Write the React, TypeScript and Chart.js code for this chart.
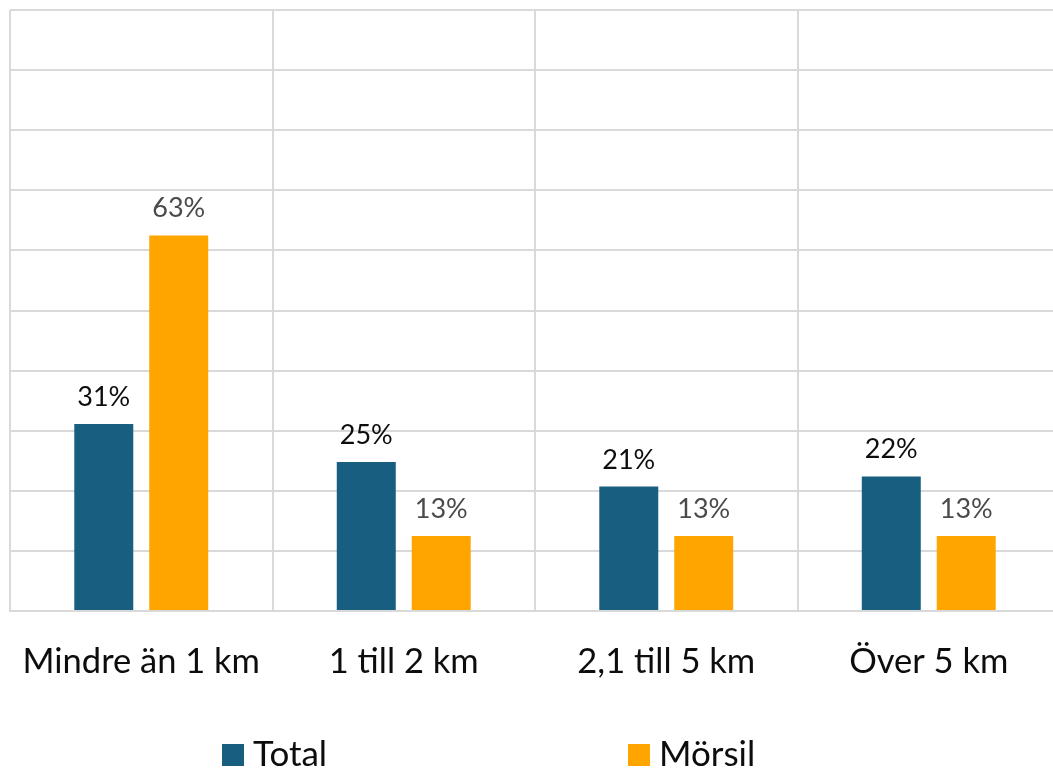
import React, { useEffect, useRef } from "react";
import { Chart, registerables } from "chart.js";

Chart.register(...registerables);

const categories = ["Mindre än 1 km", "1 till 2 km", "2,1 till 5 km", "Över 5 km"];
const totalValues = [31.1, 24.8, 20.7, 22.4];
const morsilValues = [62.5, 12.5, 12.5, 12.5];
const seriesNames = ["Total", "Mörsil"];
const seriesColors = ["#185E80", "#FFA500"];
const labelColors = ["#0d0d0d", "#4a4a4a"];

const FONT = "Lato, 'Noto Sans', sans-serif";

const valueLabelPlugin = {
  id: "valueLabels",
  afterDatasetsDraw(chart: any) {
    const ctx = chart.ctx;
    ctx.save();
    ctx.font = `27px ${FONT}`;
    ctx.textAlign = "center";
    ctx.textBaseline = "alphabetic";
    chart.data.datasets.forEach((ds: any, di: number) => {
      const meta = chart.getDatasetMeta(di);
      ctx.fillStyle = labelColors[di];
      meta.data.forEach((bar: any, i: number) => {
        const v = ds.data[i] as number;
        ctx.fillText(`${Math.round(v)}%`, bar.x, bar.y - 18);
      });
    });
    ctx.restore();
  },
};

const legendX = [222, 628];
const legendPlugin = {
  id: "customLegend",
  afterDraw(chart: any) {
    const ctx = chart.ctx;
    ctx.save();
    ctx.font = `35px ${FONT}`;
    ctx.textBaseline = "middle";
    ctx.textAlign = "left";
    chart.data.datasets.forEach((ds: any, di: number) => {
      const x = legendX[di];
      ctx.fillStyle = ds.backgroundColor;
      ctx.fillRect(x, 744, 22, 22);
      ctx.fillStyle = "#0d0d0d";
      ctx.fillText(ds.label, x + 31, 755);
    });
    ctx.restore();
  },
};

export default function App() {
  const ref = useRef<HTMLCanvasElement>(null);
  useEffect(() => {
    if (!ref.current) return;
    const chart = new Chart(ref.current, {
      type: "bar",
      data: {
        labels: categories,
        datasets: [
          { label: seriesNames[0], data: totalValues, backgroundColor: seriesColors[0], borderWidth: 0 },
          { label: seriesNames[1], data: morsilValues, backgroundColor: seriesColors[1], borderWidth: 0 },
        ],
      },
      options: {
        responsive: false,
        animation: false,
        devicePixelRatio: 1,
        layout: { padding: { left: 10, top: 10, right: 2, bottom: 89 } },
        datasets: { bar: { categoryPercentage: 0.571, barPercentage: 0.787 } },
        plugins: {
          legend: { display: false },
          tooltip: { enabled: false },
        },
        scales: {
          x: {
            grid: { display: true, offset: true, color: "#d9d9d9", lineWidth: 2, drawTicks: false },
            border: { display: true, color: "#d9d9d9", width: 2 },
            ticks: { font: { family: FONT, size: 34.5 }, color: "#0d0d0d", padding: 30, maxRotation: 0, autoSkip: false },
            afterFit(scale: any) {
              scale.height = 70;
              scale.paddingLeft = 0;
              scale.paddingRight = 0;
            },
          },
          y: {
            min: 0,
            max: 100,
            ticks: { display: false, stepSize: 10 },
            grid: { color: "#d9d9d9", lineWidth: 2, drawTicks: false },
            border: { display: false },
            afterFit(scale: any) {
              scale.width = 0;
            },
          },
        },
      },
      plugins: [valueLabelPlugin, legendPlugin],
    });
    return () => chart.destroy();
  }, []);
  return (
    <div style={{ position: "fixed", left: 0, top: 0, width: 1053, height: 770, overflow: "hidden", background: "#fff" }}>
      <canvas ref={ref} width={1062} height={770} style={{ display: "block", width: 1062, height: 770 }} />
    </div>
  );
}
